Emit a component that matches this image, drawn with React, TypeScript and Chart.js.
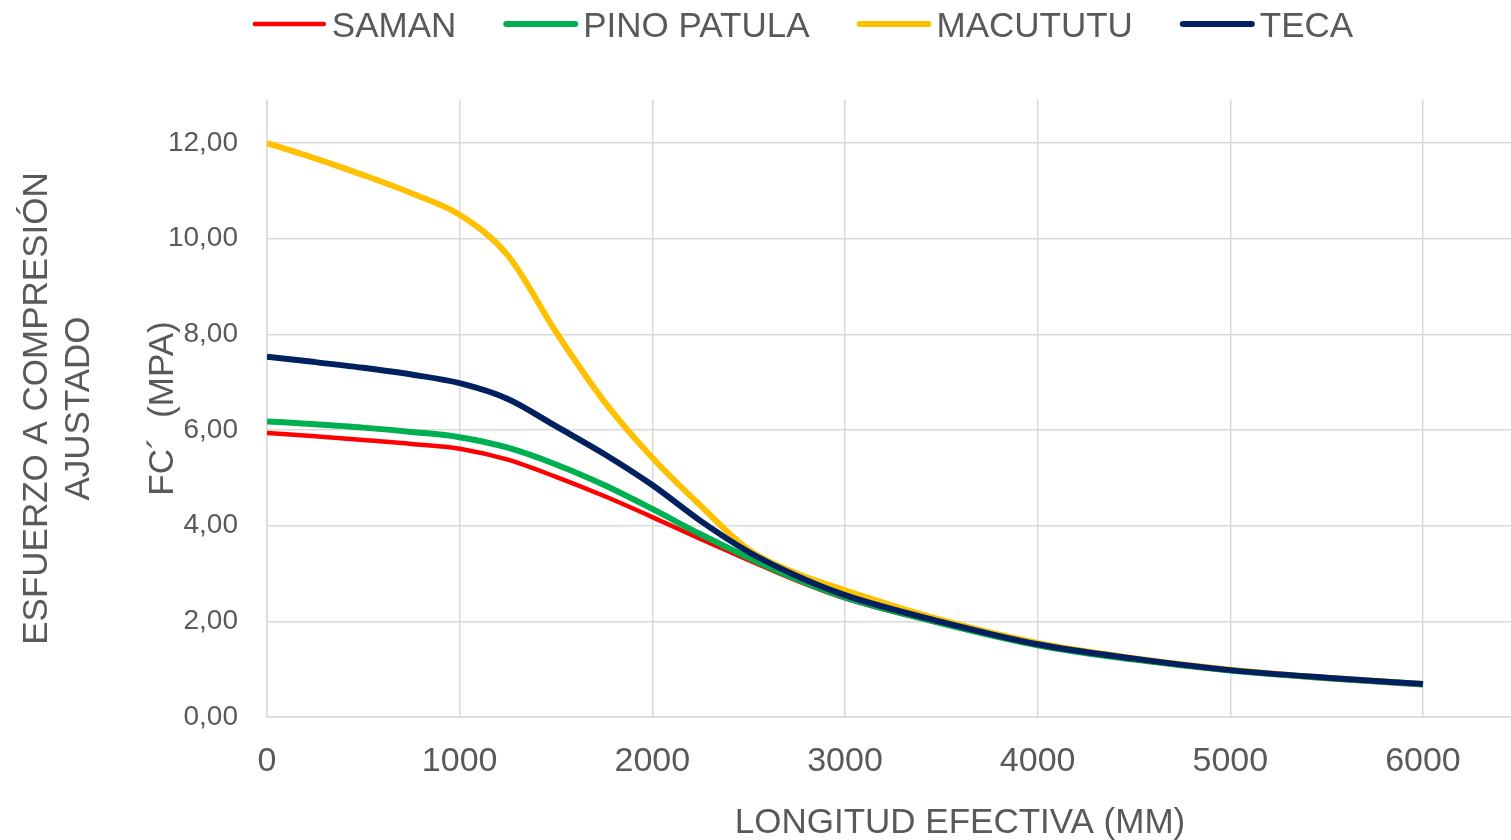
import React, { useEffect, useRef } from "react";
import { Chart, registerables } from "chart.js";

Chart.register(...registerables);

// ---- Data ----
const LENGTHS = [0, 250, 500, 750, 1000, 1250, 1500, 1750, 2000, 2250, 2500, 2750, 3000, 3500, 4000, 4500, 5000, 5500, 6000];
const SAMAN = [5.94, 5.87, 5.79, 5.71, 5.61, 5.38, 5.02, 4.62, 4.18, 3.72, 3.28, 2.85, 2.48, 1.95, 1.5, 1.2, 0.97, 0.81, 0.68];
const PINO_PATULA = [6.18, 6.12, 6.05, 5.96, 5.85, 5.63, 5.28, 4.85, 4.35, 3.82, 3.33, 2.88, 2.5, 1.96, 1.5, 1.2, 0.97, 0.81, 0.68];
const MACUTUTU = [12.0, 11.68, 11.33, 10.95, 10.5, 9.65, 8.05, 6.6, 5.42, 4.42, 3.5, 3.0, 2.65, 2.03, 1.55, 1.23, 0.99, 0.82, 0.69];
const TECA = [7.53, 7.42, 7.3, 7.16, 6.98, 6.65, 6.08, 5.5, 4.85, 4.1, 3.45, 2.95, 2.55, 1.99, 1.52, 1.22, 0.98, 0.82, 0.69];

const SERIES_NAMES = ["SAMAN", "PINO PATULA", "MACUTUTU", "TECA"];
const X_TICKS = [0, 1000, 2000, 3000, 4000, 5000, 6000];
const Y_TICKS = [0, 2, 4, 6, 8, 10, 12];
const X_TITLE = "LONGITUD EFECTIVA (MM)";
const Y_TITLE = ["ESFUERZO A COMPRESIÓN", "AJUSTADO", "", "FC´  (MPA)"];

const FONT = '"Liberation Sans", Arial, sans-serif';
const TEXT_COLOR = "#595959";
const GRID_COLOR = "#D9D9D9";

const legendAndTitlePlugin = {
  id: "customLegendAndTitle",
  afterDraw(chart: any) {
    const ctx = chart.ctx as CanvasRenderingContext2D;
    ctx.save();
    ctx.font = `35px ${FONT}`;
    const items = chart.data.datasets.map((ds: any) => ({
      label: ds.label as string,
      color: ds.borderColor as string,
      w: ds.borderWidth as number,
      tw: ctx.measureText(ds.label).width,
    }));
    const LINE = 69, GAP = 8, SEP = 50;
    const total = items.reduce((s: number, it: any) => s + LINE + GAP + it.tw, 0) + SEP * (items.length - 1);
    let x = 804 - total / 2;
    for (const it of items) {
      ctx.strokeStyle = it.color;
      ctx.lineWidth = it.w;
      ctx.lineCap = "round";
      ctx.beginPath();
      ctx.moveTo(x, 24);
      ctx.lineTo(x + LINE, 24);
      ctx.stroke();
      ctx.fillStyle = TEXT_COLOR;
      ctx.textAlign = "left";
      ctx.textBaseline = "alphabetic";
      ctx.fillText(it.label, x + LINE + GAP, 37);
      x += LINE + GAP + it.tw + SEP;
    }
    ctx.textAlign = "center";
    ctx.textBaseline = "alphabetic";
    ctx.fillStyle = TEXT_COLOR;
    ctx.fillText(X_TITLE, 960, 833);
    ctx.restore();
  },
};

export default function App() {
  const canvasRef = useRef<HTMLCanvasElement | null>(null);

  useEffect(() => {
    document.body.style.margin = "0";
    const canvas = canvasRef.current;
    if (!canvas) return;
    Chart.defaults.font.family = FONT;
    Chart.defaults.color = TEXT_COLOR;

    const mk = (vals: number[]) => LENGTHS.map((x, i) => ({ x, y: vals[i] }));
    const colors = ["#FF0000", "#00B050", "#FFC000", "#002060"];
    const widths = [4.5, 6, 6, 6];
    const orders = [3, 2, 1, 0];
    const values = [SAMAN, PINO_PATULA, MACUTUTU, TECA];

    const chart = new Chart(canvas, {
      type: "line",
      data: {
        datasets: SERIES_NAMES.map((name, i) => ({
          label: name,
          data: mk(values[i]),
          borderColor: colors[i],
          backgroundColor: colors[i],
          borderWidth: widths[i],
          pointRadius: 0,
          tension: 0.4,
          cubicInterpolationMode: "monotone" as const,
          order: orders[i],
          fill: false,
        })),
      },
      options: {
        animation: false,
        responsive: false,
        maintainAspectRatio: false,
        layout: { padding: { top: 100, left: 0, right: 0, bottom: 0 } },
        plugins: {
          legend: { display: false },
          tooltip: { enabled: false },
        },
        scales: {
          x: {
            type: "linear",
            min: 0,
            max: 6457,
            afterBuildTicks: (scale: any) => {
              scale.ticks = X_TICKS.map((v) => ({ value: v }));
            },
            afterFit: (scale: any) => {
              scale.height = 123;
              scale.paddingLeft = 0;
              scale.paddingRight = 0;
            },
            grid: { color: GRID_COLOR, lineWidth: 1.5, drawTicks: false },
            border: { color: GRID_COLOR, width: 1.5 },
            ticks: {
              padding: 24,
              maxRotation: 0,
              autoSkip: false,
              font: { size: 34, family: FONT },
              color: TEXT_COLOR,
              callback: (v: any) => String(v),
            },
            title: { display: false },
          },
          y: {
            type: "linear",
            min: 0,
            max: 12.9,
            afterBuildTicks: (scale: any) => {
              scale.ticks = Y_TICKS.map((v) => ({ value: v }));
            },
            afterFit: (scale: any) => {
              scale.width = 267;
              scale.paddingTop = 0;
              scale.paddingBottom = 0;
            },
            grid: { color: GRID_COLOR, lineWidth: 1.5, drawTicks: false },
            border: { color: GRID_COLOR, width: 1.5 },
            ticks: {
              padding: 29,
              autoSkip: false,
              font: { size: 28, family: FONT },
              color: TEXT_COLOR,
              callback: (v: any) => Number(v).toFixed(2).replace(".", ","),
            },
            title: {
              display: true,
              text: Y_TITLE,
              color: TEXT_COLOR,
              font: { size: 35, family: FONT, lineHeight: 1.2 },
              padding: { top: 16, bottom: 0 },
            },
          },
        },
      },
      plugins: [legendAndTitlePlugin],
    });

    return () => {
      chart.destroy();
    };
  }, []);

  return (
    <div style={{ position: "absolute", left: 0, top: 0, width: 1511, height: 840, background: "#fff" }}>
      <canvas ref={canvasRef} width={1511} height={840} style={{ display: "block" }} />
    </div>
  );
}
